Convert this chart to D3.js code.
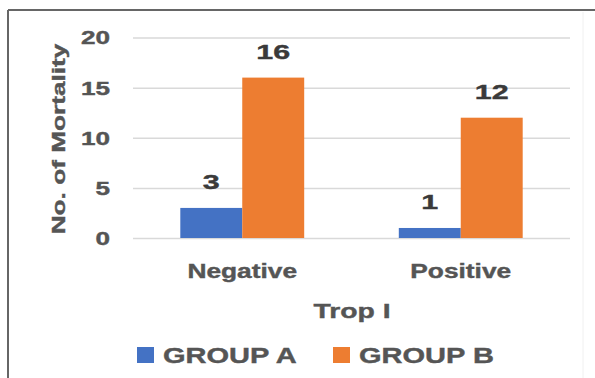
<!DOCTYPE html>
<html>
<head>
<meta charset="utf-8">
<script src="https://cdn.jsdelivr.net/npm/d3@7"></script>
<style>
  body { margin: 0; background: #fff; }
  text { font-family: "Liberation Sans", Arial, sans-serif; font-weight: bold; }
</style>
</head>
<body>
<svg id="chart"></svg>
<script>
/* データ */
let categories = ["Negative", "Positive"];
let groups = ["GROUP A", "GROUP B"];
let groupA = [3, 1];
let groupB = [16, 12];
let yTicks = [0, 5, 10, 15, 20];
let colors = ["#4472C4", "#ED7D31"];

let width = 595;
let height = 378;
let margin = { left: 133, right: 25, top: 37.5, bottom: 140 };

/* 文字が横長なので横方向に伸ばす */
let stretch = 1.35;

let svg = d3.select("#chart")
  .attr("width", width)
  .attr("height", height);

/* 外枠 (上と左だけ見える) */
svg.append("line").attr("x1", 8).attr("x2", width).attr("y1", 10).attr("y2", 10)
  .attr("stroke", "#666").attr("stroke-width", 2);
svg.append("line").attr("x1", 8).attr("x2", 8).attr("y1", 10).attr("y2", height)
  .attr("stroke", "#666").attr("stroke-width", 2);
svg.append("line").attr("x1", 583).attr("x2", 583).attr("y1", 12).attr("y2", height)
  .attr("stroke", "#f0f0f0").attr("stroke-width", 1);

/* スケール */
let x0 = d3.scaleBand()
  .domain(categories)
  .range([margin.left, width - margin.right]);
let groupFrac = 0.567;
let x1 = d3.scaleBand()
  .domain(groups)
  .range([x0.bandwidth() * (1 - groupFrac) / 2, x0.bandwidth() * (1 + groupFrac) / 2]);
let y = d3.scaleLinear()
  .domain([0, 20])
  .range([height - margin.bottom, margin.top]);

/* グリッド線 + y軸ラベル */
let yAxis = svg.append("g")
  .attr("transform", "translate(" + margin.left + ",0)")
  .call(d3.axisLeft(y).tickValues(yTicks).tickSize(-(width - margin.left - margin.right)));
yAxis.select(".domain").remove();
yAxis.selectAll(".tick line").attr("stroke", "#d9d9d9").attr("stroke-width", 1.5);
yAxis.selectAll(".tick text")
  .attr("x", 0)
  .attr("dy", "0.36em")
  .attr("transform", "translate(-23,0) scale(1.45,1)")
  .attr("fill", "#555")
  .attr("stroke", "#555")
  .attr("stroke-width", 0.4)
  .style("font-size", "18px")
  .style("font-family", "'Liberation Sans', Arial, sans-serif")
  .style("font-weight", "bold");

/* 棒 */
let series = [groupA, groupB];
let rows = [];
series.forEach((vals, gi) => {
  vals.forEach((v, ci) => rows.push({ cat: categories[ci], group: groups[gi], value: v, gi: gi }));
});

svg.append("g").selectAll("rect")
  .data(rows)
  .join("rect")
  .attr("x", d => x0(d.cat) + x1(d.group))
  .attr("y", d => y(d.value))
  .attr("width", x1.bandwidth())
  .attr("height", d => y(0) - y(d.value))
  .attr("fill", d => colors[d.gi]);

/* 値ラベル */
svg.append("g").selectAll("text")
  .data(rows)
  .join("text")
  .attr("transform", d => "translate(" + (x0(d.cat) + x1(d.group) + x1.bandwidth() / 2) + "," + (y(d.value) - 19) + ") scale(1.45,1)")
  .attr("text-anchor", "middle")
  .attr("fill", "#3a3a3a")
  .attr("stroke", "#3a3a3a")
  .attr("stroke-width", 0.4)
  .style("font-size", "21px")
  .text(d => d.value);

/* カテゴリラベル */
svg.append("g").selectAll("text")
  .data(categories)
  .join("text")
  .attr("transform", d => "translate(" + (x0(d) + x0.bandwidth() / 2) + "," + (y(0) + 40) + ") scale(" + stretch + ",1)")
  .attr("text-anchor", "middle")
  .attr("fill", "#555")
  .attr("stroke", "#555")
  .attr("stroke-width", 0.4)
  .style("font-size", "19.5px")
  .text(d => d);

/* 軸タイトル */
svg.append("text")
  .attr("transform", "translate(352,318) scale(" + stretch + ",1)")
  .attr("text-anchor", "middle")
  .attr("fill", "#555")
  .attr("stroke", "#555")
  .attr("stroke-width", 0.4)
  .style("font-size", "21px")
  .text("Trop I");

svg.append("text")
  .attr("transform", "translate(65,139) rotate(-90) scale(1.38,1)")
  .attr("text-anchor", "middle")
  .attr("fill", "#555")
  .attr("stroke", "#555")
  .attr("stroke-width", 0.4)
  .style("font-size", "19px")
  .text("No. of Mortality");

/* 凡例 */
let legendX = [137, 333];
let legend = svg.append("g").selectAll("g")
  .data(groups)
  .join("g")
  .attr("transform", (d, i) => "translate(" + legendX[i] + ",347)");
legend.append("rect")
  .attr("width", 17).attr("height", 16)
  .attr("fill", (d, i) => colors[i]);
legend.append("text")
  .attr("transform", "translate(26,16) scale(" + stretch + ",1)")
  .attr("fill", "#555")
  .attr("stroke", "#555")
  .attr("stroke-width", 0.4)
  .style("font-size", "21.5px")
  .text(d => d);
</script>
</body>
</html>
